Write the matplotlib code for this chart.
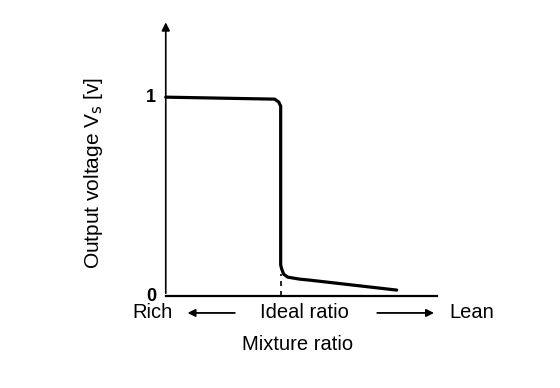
import numpy as np
import matplotlib.pyplot as plt

plt.rcParams['font.family'] = ['Liberation Sans', 'DejaVu Sans']

# sensor output curve (mixture ratio in arbitrary units, voltage in V)
mix = [0.0, 2.0, 4.02, 4.17, 4.24, 4.24, 4.28, 4.35, 4.50, 4.94, 5.31, 8.52]
volt = [1.0, 0.995, 0.99, 0.975, 0.955, 0.156, 0.135, 0.11, 0.095, 0.085, 0.08, 0.03]
ideal = 4.24
yticks = [0, 1]

fig = plt.figure(figsize=(5.6, 3.88), dpi=100)
ax = fig.add_axes([0.296, 0.237, 0.484, 0.711])
ax.set_xlim(0, 10)
ax.set_ylim(0, 1.387)
ax.axis('off')

# axes drawn by hand
ax.plot([0, 10], [0, 0], color='black', lw=1.6, clip_on=False)
ax.annotate('', xy=(0, 1.39), xytext=(0, 0),
            arrowprops=dict(arrowstyle='-|>', color='black', lw=1.2,
                            mutation_scale=12), annotation_clip=False)

ax.plot(mix, volt, color='black', lw=2.3, solid_joinstyle='round',
        solid_capstyle='round', clip_on=False)
ax.plot([ideal, ideal], [0, 0.11], color='black', lw=1.2,
        linestyle=(0, (3, 3)))

for v in yticks:
    ax.text(-0.35, v, str(v), ha='right', va='center', fontsize=13,
            fontweight='bold')

ty = -0.085
ax.text(-0.48, ty, 'Rich', ha='center', va='center', fontsize=14.5)
ax.text(5.1, ty, 'Ideal ratio', ha='center', va='center', fontsize=14.5)
ax.text(10.45, ty, 'Lean', ha='left', va='center', fontsize=14.5)
ax.annotate('', xy=(0.7, ty), xytext=(2.65, ty),
            arrowprops=dict(arrowstyle='-|>', color='black', lw=1.3,
                            mutation_scale=11), annotation_clip=False)
ax.annotate('', xy=(10.0, ty), xytext=(7.7, ty),
            arrowprops=dict(arrowstyle='-|>', color='black', lw=1.3,
                            mutation_scale=11), annotation_clip=False)

ax.text(4.85, -0.245, 'Mixture ratio', ha='center', va='center', fontsize=14.5)
ax.text(-2.66, 0.62, 'Output voltage V$_{\\mathrm{s}}$ [v]', ha='center',
        va='center', rotation=90, fontsize=15)

plt.savefig('out.png', dpi=100)
